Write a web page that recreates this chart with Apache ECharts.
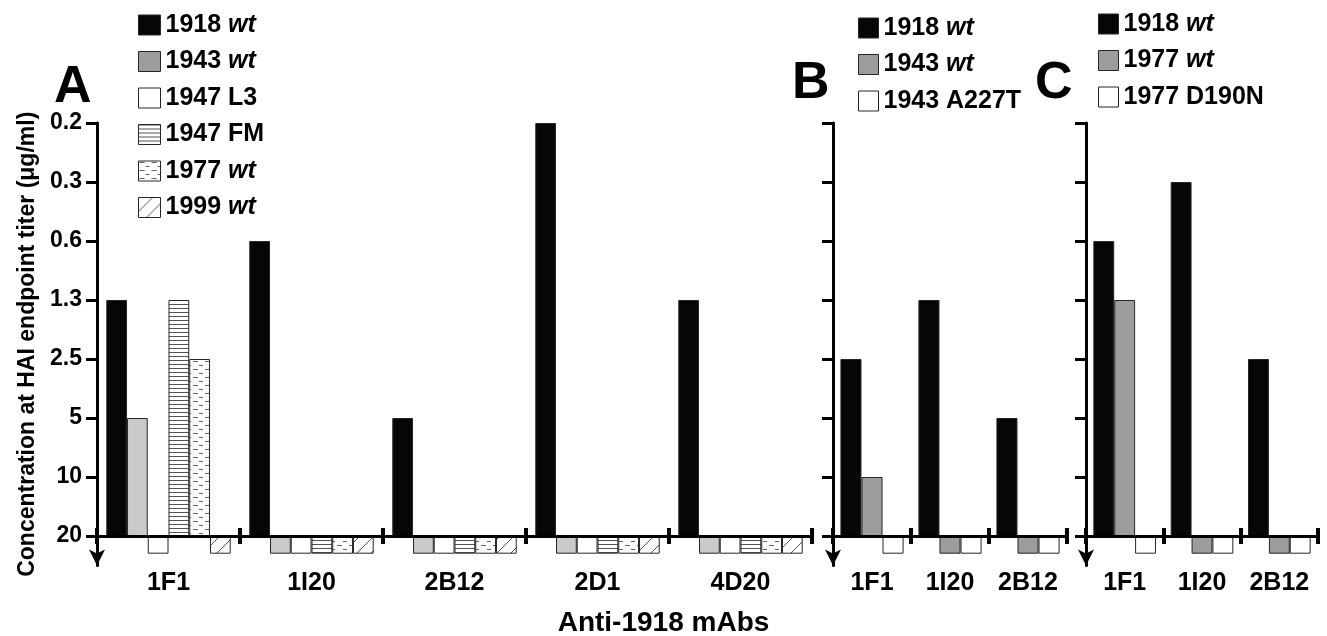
<!DOCTYPE html>
<html><head><meta charset="utf-8">
<script src="https://cdn.jsdelivr.net/npm/echarts@6/dist/echarts.min.js"></script>
<style>html,body{margin:0;padding:0;background:#fff}#c{width:1327px;height:636px}</style>
</head><body><div id="c"></div>
<script>
// ---- data ----
const levels = ['20','10','5','2.5','1.3','0.6','0.3','0.2']; // tick labels, bottom to top
const ND = '>20'; // not detected (drawn below baseline)
const catsA = ['1F1','1I20','2B12','2D1','4D20'];
const catsB = ['1F1','1I20','2B12'];
const catsC = ['1F1','1I20','2B12'];
const a1918 = ['1.3','0.6','5','0.2','1.3'];
const a1943 = ['5',ND,ND,ND,ND];
const a1947L3 = [ND,ND,ND,ND,ND];
const a1947FM = ['1.3',ND,ND,ND,ND];
const a1977 = ['2.5',ND,ND,ND,ND];
const a1999 = [ND,ND,ND,ND,ND];
const b1918 = ['2.5','1.3','5'];
const b1943 = ['10',ND,ND];
const bA227T = [ND,ND,ND];
const c1918 = ['0.6','0.3','2.5'];
const c1977 = ['1.3',ND,ND];
const cD190N = [ND,ND,ND];

const toIdx = arr => arr.map(v => v === ND ? -0.3 : levels.indexOf(v));

function pat(w, h, draw){
  const c = document.createElement('canvas'); c.width = w; c.height = h;
  const g = c.getContext('2d'); g.fillStyle = '#fff'; g.fillRect(0,0,w,h); draw(g);
  return {image: c, repeat: 'repeat'};
}
const patFM = pat(4, 4, g => { g.fillStyle = '#555'; g.fillRect(0,0,4,1); });
const patDot = pat(12, 8, g => { g.fillStyle = '#666'; g.fillRect(1,1,5,1); g.fillRect(7,5,4,1); });
const patDiag = pat(14, 14, g => { g.strokeStyle = '#555'; g.lineWidth = 1;
  g.beginPath(); g.moveTo(-1,15); g.lineTo(15,-1); g.stroke(); });

const BLACK = '#060606', LGRAY = '#cacaca', MGRAY = '#9c9c9c';
const FONT = '"Liberation Sans", Arial, sans-serif';

function bar(name, data, color, gi, gap){
  return { type:'bar', name, xAxisIndex: gi*2, yAxisIndex: gi, data: toIdx(data),
    barGap: '0%', barCategoryGap: gap, silent: true,
    itemStyle: { color, borderColor: '#262626', borderWidth: 1 } };
}

const grids = [
  {left: 97, top: 123, width: 715, height: 442.5},
  {left: 833, top: 123, width: 234, height: 442.5},
  {left: 1086, top: 123, width: 232, height: 442.5}
];
const cats = [catsA, catsB, catsC];
const XOFF = -29.5; // puts the category axis at value 0 (titer 20)

const xAxes = [], yAxes = [];
cats.forEach((c, i) => {
  xAxes.push({ type:'category', gridIndex: i, data: c, z: 5, position: 'bottom', offset: XOFF,
    axisLine: { onZero: false, lineStyle: { color: '#000', width: 3 } },
    axisTick: { show: true, length: 8, lineStyle: { color: '#000', width: 4 } },
    axisLabel: { margin: 35, interval: 0, color: '#000', fontSize: 25, fontWeight: 'bold', fontFamily: FONT },
    splitLine: { show: false } });
  xAxes.push({ type:'category', gridIndex: i, data: c, z: 5, position: 'bottom', offset: XOFF,
    axisLine: { show: false, onZero: false },
    axisTick: { show: true, inside: true, length: 8, lineStyle: { color: '#000', width: 4 } },
    axisLabel: { show: false }, splitLine: { show: false } });
  yAxes.push({ type:'value', gridIndex: i, min: -0.5, max: 7, z: 5,
    name: i === 0 ? 'Concentration at HAI endpoint titer (\u03bcg/ml)' : '',
    nameLocation: 'middle', nameGap: 57,
    nameTextStyle: { color: '#000', fontSize: 23, fontWeight: 'bold', fontFamily: FONT },
    axisLine: { show: true, symbol: ['arrow','none'], symbolSize: [12, 16], lineStyle: { color: '#000', width: 3 } },
    axisTick: { show: true, length: 11, customValues: [0,1,2,3,4,5,6,7], lineStyle: { color: '#000', width: 3 } },
    axisLabel: { show: i === 0, margin: 15, customValues: [0,1,2,3,4,5,6,7],
      formatter: v => levels[Math.round(v)], color: '#000', fontSize: 23, fontWeight: 'bold', fontFamily: FONT },
    splitLine: { show: false } });
});

const series = [
  bar('1918 wt', a1918, BLACK, 0, '13%'),
  bar('1943 wt', a1943, LGRAY, 0, '13%'),
  bar('1947 L3', a1947L3, '#ffffff', 0, '13%'),
  bar('1947 FM', a1947FM, patFM, 0, '13%'),
  bar('1977 wt', a1977, patDot, 0, '13%'),
  bar('1999 wt', a1999, patDiag, 0, '13%'),
  bar('1918 wt', b1918, BLACK, 1, '19%'),
  bar('1943 wt', b1943, MGRAY, 1, '19%'),
  bar('1943 A227T', bA227T, '#ffffff', 1, '19%'),
  bar('1918 wt', c1918, BLACK, 2, '19%'),
  bar('1977 wt', c1977, MGRAY, 2, '19%'),
  bar('1977 D190N', cD190N, '#ffffff', 2, '19%')
];

const rich = {
  n: { fontSize: 25, lineHeight: 26, fontWeight: 'bold', fontFamily: FONT, color: '#000' },
  i: { fontSize: 25, lineHeight: 26, fontWeight: 'bold', fontStyle: 'italic', fontFamily: FONT, color: '#000' }
};
const fmt = name => name.endsWith(' wt') ? '{n|' + name.slice(0, -3) + ' }{i|wt}' : '{n|' + name + '}';
const icon = (name, color) => ({ name, icon: 'rect', itemStyle: { color, borderColor: '#262626', borderWidth: 1 } });
function legend(left, top, w, data){
  return { orient: 'vertical', left, top, itemWidth: w, itemHeight: 20, itemGap: 10.5,
    selectedMode: false, formatter: fmt, textStyle: { rich, lineHeight: 26 }, data };
}

const option = {
  animation: false,
  grid: grids,
  xAxis: xAxes,
  yAxis: yAxes,
  series,
  legend: [
    legend(133, 7, 22, [icon('1918 wt', BLACK), icon('1943 wt', MGRAY), icon('1947 L3', '#fff'),
      icon('1947 FM', patFM), icon('1977 wt', patDot), icon('1999 wt', patDiag)]),
    legend(853, 10, 20, [icon('1918 wt', BLACK), icon('1943 wt', MGRAY), icon('1943 A227T', '#fff')]),
    legend(1093, 6, 20, [icon('1918 wt', BLACK), icon('1977 wt', MGRAY), icon('1977 D190N', '#fff')])
  ],
  graphic: [
    { type: 'text', left: 54, top: 62, style: { text: 'A', font: 'bold 52px ' + FONT, fill: '#000' } },
    { type: 'text', left: 792, top: 58, style: { text: 'B', font: 'bold 52px ' + FONT, fill: '#000' } },
    { type: 'text', left: 1035, top: 58, style: { text: 'C', font: 'bold 52px ' + FONT, fill: '#000' } },
    { type: 'text', left: 'center', top: 609, style: { text: 'Anti-1918 mAbs', font: 'bold 28px ' + FONT, fill: '#000' } }
  ]
};
const chart = echarts.init(document.getElementById('c'), null, { renderer: 'canvas' });
chart.setOption(option);
</script></body></html>
